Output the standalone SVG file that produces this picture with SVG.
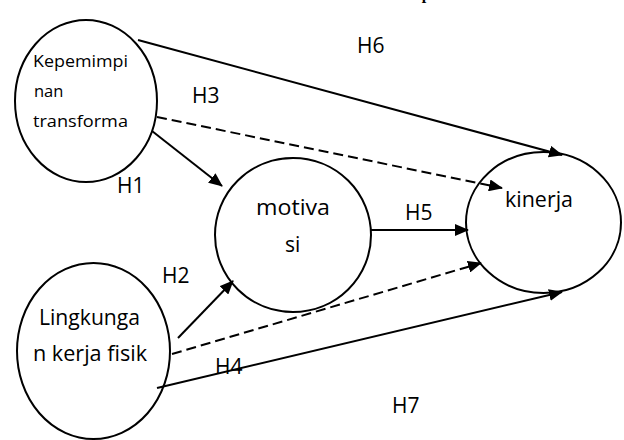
<svg xmlns="http://www.w3.org/2000/svg" width="624" height="440" viewBox="0 0 624 440">
<style>
.node{fill:#fff;stroke:#000;stroke-width:2}
.lbl{font-family:"Open Sans","Noto Sans","Liberation Sans",sans-serif;fill:#000}
.t18{font-size:16.5px}
.t22{font-size:21px}
.h{font-family:"Open Sans","Noto Sans","Liberation Sans",sans-serif;font-size:21px;fill:#000}
.ln{fill:none;stroke:#000;stroke-width:2}
.dash{stroke-dasharray:10 5}
.title{font-family:"Liberation Serif",serif;font-weight:bold;font-size:16px;fill:#000}
</style>
<defs>
<marker id="arr" markerUnits="userSpaceOnUse" markerWidth="14" markerHeight="12" refX="13" refY="6" orient="auto">
<path d="M0,0 L14,6 L0,12 Z" fill="#000"/>
</marker>
</defs>
<text class="title" x="217" y="-1" textLength="255" lengthAdjust="spacing">Gambar Model Empiris</text>
<g id="kepemimpinan">
<ellipse class="node" cx="86" cy="101" rx="71" ry="81"/>
<text class="lbl t18" x="33" y="67" textLength="95" lengthAdjust="spacingAndGlyphs">Kepemimpi</text>
<text class="lbl t18" x="34" y="97">nan</text>
<text class="lbl t18" x="33" y="127" textLength="95" lengthAdjust="spacingAndGlyphs">transforma</text>
</g>
<g id="motivasi">
<ellipse class="node" cx="293" cy="235" rx="78" ry="77"/>
<text class="lbl t22" x="256" y="215" textLength="74" lengthAdjust="spacingAndGlyphs">motiva</text>
<text class="lbl t22" x="285" y="252">si</text>
</g>
<g id="kinerja">
<ellipse class="node" cx="543.5" cy="222.5" rx="77.5" ry="70.5"/>
<text class="lbl t22" x="505" y="207" textLength="68" lengthAdjust="spacingAndGlyphs">kinerja</text>
</g>
<g id="lingkungan">
<ellipse class="node" cx="93.5" cy="351" rx="76.5" ry="88"/>
<text class="lbl t22" x="39" y="325" textLength="101" lengthAdjust="spacingAndGlyphs">Lingkunga</text>
<text class="lbl t22" x="33" y="361" textLength="114" lengthAdjust="spacingAndGlyphs">n kerja fisik</text>
</g>
<g id="connectors">
<line class="ln" x1="138" y1="40" x2="562" y2="155" marker-end="url(#arr)"/>
<line class="ln dash" x1="157" y1="117" x2="502" y2="188" marker-end="url(#arr)"/>
<line class="ln" x1="152" y1="131" x2="222" y2="186" marker-end="url(#arr)"/>
<line class="ln" x1="178" y1="338" x2="233" y2="281" marker-end="url(#arr)"/>
<line class="ln dash" x1="172" y1="354" x2="481" y2="263" marker-end="url(#arr)"/>
<line class="ln" x1="371" y1="230" x2="468" y2="230" marker-end="url(#arr)"/>
<line class="ln" x1="157" y1="388" x2="562" y2="292" marker-end="url(#arr)"/>
</g>
<g id="labels">
<text class="h" x="357" y="53">H6</text>
<text class="h" x="192" y="103">H3</text>
<text class="h" x="117" y="193">H1</text>
<text class="h" x="162" y="283">H2</text>
<text class="h" x="405" y="220">H5</text>
<text class="h" x="215" y="374">H4</text>
<text class="h" x="392" y="413">H7</text>
</g>
</svg>
